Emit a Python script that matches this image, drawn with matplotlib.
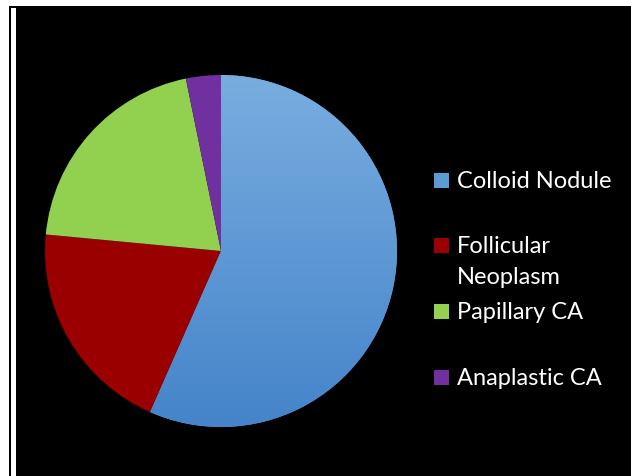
import matplotlib
matplotlib.use("Agg")
import matplotlib.pyplot as plt
import numpy as np
from matplotlib.patches import Rectangle
from matplotlib.colors import LinearSegmentedColormap

categories = ["Colloid Nodule", "Follicular\nNeoplasm", "Papillary CA", "Anaplastic CA"]
values = [56.6, 19.9, 20.3, 3.2]
colors = ["#5b9bd5", "#9b0000", "#92d050", "#7030a0"]

W, H = 631, 477
fig = plt.figure(figsize=(W / 100, H / 100), dpi=100)
fig.patch.set_facecolor("white")

# black slide background
bg = fig.add_axes([0, 0, 1, 1])
bg.set_xlim(0, W)
bg.set_ylim(H, 0)
bg.axis("off")
bg.add_patch(Rectangle((9, 7), W - 9, H - 7, facecolor="black", edgecolor="none"))
bg.add_patch(Rectangle((11, 9), 5, H - 9, facecolor="white", edgecolor="none"))

cx, cy, r = 221, 252, 176
ax = fig.add_axes([(cx - r) / W, (H - cy - r) / H, 2 * r / W, 2 * r / H])
ax.set_facecolor("none")
wedges, _ = ax.pie(values, colors=colors, startangle=90, counterclock=False,
                   radius=1, wedgeprops=dict(linewidth=0))
ax.set_xlim(-1, 1)
ax.set_ylim(-1, 1)
ax.axis("off")

# gradient on the first slice
cmap = LinearSegmentedColormap.from_list("g", ["#4584ca", "#78addf"])
grad = np.linspace(0, 1, 256).reshape(-1, 1)
im = ax.imshow(grad, extent=(-1, 1, -1, 1), origin="lower", cmap=cmap,
               aspect="auto", zorder=wedges[0].get_zorder() + 0.1)
im.set_clip_path(wedges[0])

# legend
font = ["Lato", "DejaVu Sans"]
ys = [181, 246, 312, 378]
for cat, col, y in zip(categories, colors, ys):
    bg.add_patch(Rectangle((434, y - 7.5), 15, 15, facecolor=col, edgecolor="none"))
    for i, line in enumerate(cat.split("\n")):
        bg.text(457, y + 1 + i * 31, line, color="white", fontsize=17, family=font,
                va="center", ha="left")

fig.savefig("out.png", dpi=100, facecolor=fig.get_facecolor())
